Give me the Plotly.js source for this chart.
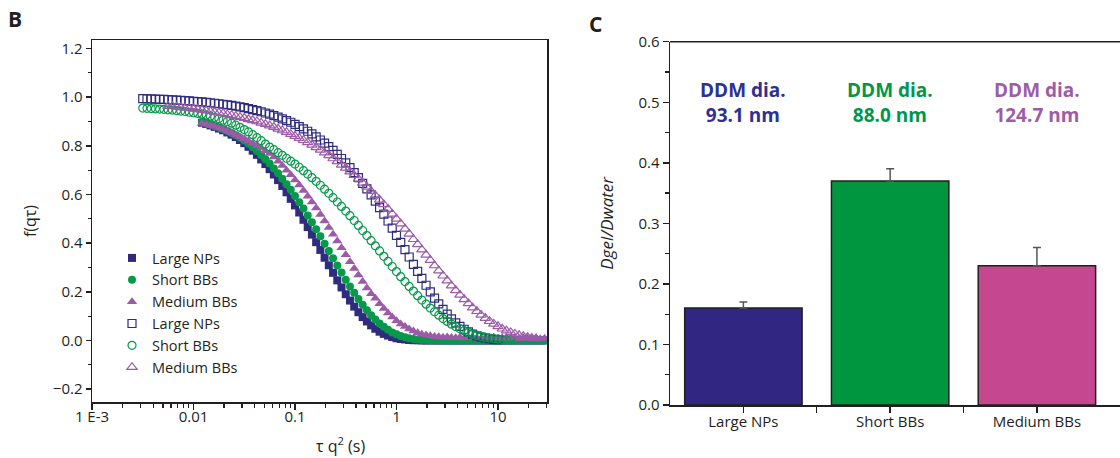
<!DOCTYPE html>
<html><head><meta charset="utf-8">
<script src="https://cdn.plot.ly/plotly-3.0.1.min.js"></script>
<style>html,body{margin:0;padding:0;background:#fff}#chart{width:1120px;height:458px}</style>
</head><body><div id="chart"></div>
<script>
// ---------- Panel B data: f(q,tau) vs tau*q^2 (s) ----------
const tauGrid = [0.003162,0.003481,0.003831,0.004217,0.004642,0.005109,0.005623,0.006190,0.006813,0.007499,0.008254,0.009085,
  0.01000,0.01101,0.01212,0.01334,0.01468,0.01616,0.01778,0.01957,0.02154,0.02371,0.02610,0.02873,
  0.03162,0.03481,0.03831,0.04217,0.04642,0.05109,0.05623,0.06190,0.06813,0.07499,0.08254,0.09085,
  0.1000,0.1101,0.1212,0.1334,0.1468,0.1616,0.1778,0.1957,0.2154,0.2371,0.2610,0.2873,
  0.3162,0.3481,0.3831,0.4217,0.4642,0.5109,0.5623,0.6190,0.6813,0.7499,0.8254,0.9085,
  1.000,1.101,1.212,1.334,1.468,1.616,1.778,1.957,2.154,2.371,2.610,2.873,
  3.162,3.481,3.831,4.217,4.642,5.109,5.623,6.190,6.813,7.499,8.254,9.085,
  10.00,11.01,12.12,13.34,14.68,16.16,17.78,19.57,21.54,23.71,26.10,28.73,31.62];

// filled symbols (water) start at tauGrid[14]
const largeNPsWater = [0.895,0.890,0.884,0.878,0.871,0.864,0.855,0.846,0.836,0.824,0.811,0.796,
  0.780,0.763,0.744,0.725,0.704,0.682,0.659,0.635,0.609,0.582,0.555,0.526,
  0.496,0.466,0.435,0.404,0.372,0.340,0.309,0.278,0.247,0.218,0.190,0.164,
  0.139,0.116,0.096,0.078,0.062,0.048,0.036,0.027,0.020,0.014,0.009,0.006,
  0.004,0.002,0.001,0.001,0,0,0,0,0,0,0,0,
  0,0,0,0,0,0,0,0,0,0,0,0,
  0,0,0,0,0,0,0,0,0,0,0];
const shortBBsWater = [0.898,0.893,0.888,0.882,0.876,0.869,0.861,0.853,0.843,0.833,0.822,0.809,
  0.794,0.779,0.762,0.745,0.727,0.707,0.687,0.665,0.642,0.619,0.594,0.568,
  0.542,0.514,0.486,0.457,0.428,0.398,0.368,0.338,0.308,0.279,0.250,0.222,
  0.196,0.170,0.147,0.124,0.104,0.086,0.070,0.056,0.044,0.033,0.025,0.018,
  0.013,0.009,0.006,0.004,0.002,0.002,0.001,0.001,0,0,0,0,
  0,0,0,0,0,0,0,0,0,0,0,0,
  0,0,0,0,0,0,0,0,0,0,0];
const mediumBBsWater = [0.893,0.889,0.884,0.879,0.873,0.867,0.860,0.853,0.845,0.837,0.829,0.820,
  0.811,0.801,0.791,0.780,0.768,0.754,0.737,0.719,0.700,0.681,0.660,0.639,
  0.616,0.593,0.569,0.544,0.518,0.491,0.464,0.437,0.409,0.381,0.352,0.324,
  0.296,0.269,0.242,0.216,0.192,0.173,0.151,0.131,0.113,0.096,0.081,0.068,
  0.057,0.047,0.039,0.032,0.026,0.022,0.019,0.016,0.015,0.013,0.014,0.012,
  0.011,0.013,0.010,0.012,0.014,0.011,0.009,0.012,0.010,0.013,0.009,0.011,
  0.008,0.012,0.010,0.007,0.011,0.009,0.008,0.010,0.007,0.009,0.006];

// open symbols (gel)
const largeNPsGel = [0.994,0.993,0.993,0.992,0.991,0.991,0.990,0.989,0.988,0.987,0.986,0.985,
  0.983,0.982,0.981,0.979,0.977,0.975,0.973,0.971,0.968,0.966,0.963,0.960,
  0.957,0.953,0.949,0.945,0.940,0.935,0.930,0.924,0.918,0.911,0.904,0.897,
  0.888,0.879,0.870,0.860,0.849,0.837,0.824,0.811,0.797,0.781,0.765,0.748,
  0.730,0.710,0.690,0.669,0.646,0.623,0.598,0.573,0.546,0.519,0.491,0.462,
  0.432,0.403,0.373,0.343,0.313,0.284,0.255,0.227,0.200,0.174,0.150,0.128,
  0.108,0.089,0.072,0.058,0.046,0.035,0.026,0.019,0.014,0.010,0.007,0.004,
  0.003];                                   // from tauGrid[0]
const shortBBsGel = [0.955,0.954,0.953,0.952,0.951,0.950,0.948,0.947,0.945,0.943,0.941,0.938,
  0.936,0.933,0.930,0.926,0.922,0.917,0.912,0.906,0.900,0.893,0.885,0.876,
  0.867,0.857,0.846,0.834,0.821,0.807,0.795,0.784,0.772,0.761,0.749,0.737,
  0.725,0.712,0.698,0.684,0.669,0.654,0.638,0.622,0.605,0.587,0.569,0.551,
  0.532,0.513,0.493,0.473,0.452,0.431,0.410,0.389,0.368,0.346,0.325,0.304,
  0.283,0.262,0.242,0.222,0.203,0.184,0.166,0.149,0.133,0.118,0.104,0.090,
  0.078,0.067,0.057,0.048,0.040,0.033,0.026,0.021,0.017,0.013,0.010,0.008,
  0.006,0.004,0.003,0.002];                 // from tauGrid[0]
const mediumBBsGel = [0.963,0.962,0.960,0.958,0.956,0.954,
  0.952,0.950,0.947,0.945,0.942,0.939,0.936,0.933,0.929,0.926,0.922,0.918,
  0.914,0.909,0.905,0.900,0.894,0.889,0.883,0.877,0.870,0.863,0.856,0.848,
  0.840,0.832,0.823,0.814,0.804,0.794,0.783,0.772,0.761,0.748,0.736,0.722,
  0.709,0.694,0.679,0.664,0.648,0.631,0.614,0.596,0.578,0.559,0.540,0.520,
  0.500,0.480,0.459,0.438,0.416,0.395,0.373,0.352,0.330,0.308,0.287,0.266,
  0.246,0.225,0.206,0.187,0.169,0.152,0.135,0.120,0.105,0.092,0.079,0.068,
  0.058,0.048,0.040,0.033,0.027,0.021,0.017,0.013,0.010,0.008]; // from tauGrid[6]

const tauTickVals = [0.001,0.01,0.1,1,10];
const tauTickText = ['1 E-3','0.01','0.1','1','10'];
const tauMinorTicks = [0.002,0.003,0.004,0.005,0.006,0.007,0.008,0.009,
  0.02,0.03,0.04,0.05,0.06,0.07,0.08,0.09,0.2,0.3,0.4,0.5,0.6,0.7,0.8,0.9,
  2,3,4,5,6,7,8,9,20,30];
const fTickVals = [-0.2,0,0.2,0.4,0.6,0.8,1.0,1.2];

// ---------- Panel C data ----------
const categories = ['Large NPs','Short BBs','Medium BBs'];
const ratioValues = [0.16,0.37,0.23];
const ratioErrPlus = [0.01,0.02,0.03];
const ddmLabels = ['DDM dia.<br>93.1 nm','DDM dia.<br>88.0 nm','DDM dia.<br>124.7 nm'];

const FONT = '"Open Sans", "DejaVu Sans", sans-serif';
const INK = '#231f20';
const NAVY = '#2f2c80', GREEN = '#06994a', PURPLE = '#9c5aa7';
const barColors = ['#312682','#00963f','#c4478f'];
const textColors = ['#2e3192','#00964b','#9e5ba8'];

function series(name, x, y, symbol, color, size) {
  const open = symbol.indexOf('open') >= 0;
  return {type:'scatter', mode:'markers', name, x, y, xaxis:'x', yaxis:'y', cliponaxis:false,
    marker:{symbol, size, color, line:{color, width: open ? 1.2 : 0}}};
}
const xWater = tauGrid.slice(14, 14 + largeNPsWater.length);
const traces = [
  series('Large NPs', xWater, largeNPsWater, 'square', NAVY, 8),
  series('Short BBs', xWater, shortBBsWater, 'circle', GREEN, 8),
  series('Medium BBs', xWater, mediumBBsWater, 'triangle-up', PURPLE, 9),
  series('Large NPs', tauGrid.slice(0, largeNPsGel.length), largeNPsGel, 'square-open', NAVY, 8),
  series('Short BBs', tauGrid.slice(0, shortBBsGel.length), shortBBsGel, 'circle-open', GREEN, 8),
  series('Medium BBs', tauGrid.slice(6, 6 + mediumBBsGel.length), mediumBBsGel, 'triangle-up-open', PURPLE, 9),
  {type:'bar', x: categories.map((c,i)=>i), y: ratioValues, width:0.8, xaxis:'x2', yaxis:'y2', showlegend:false,
   marker:{color: barColors, line:{color: INK, width:1.5}},
   error_y:{type:'data', symmetric:false, array: ratioErrPlus, arrayminus: ratioValues.map(()=>0),
     color:'#555', thickness:1.5, width:4}}
];

const axCommon = {showline:true, linewidth:1.5, linecolor:INK, ticks:'outside', tickwidth:1.5, tickcolor:INK,
  showgrid:false, zeroline:false, tickfont:{size:15, color:INK}};

const annotations = [
  {text:'<b>B</b>', xref:'paper', yref:'paper', x:15/1120, y:1-19/458, xanchor:'center', yanchor:'middle', showarrow:false, font:{size:21, color:INK}},
  {text:'<b>C</b>', xref:'paper', yref:'paper', x:595/1120, y:1-24.5/458, xanchor:'center', yanchor:'middle', showarrow:false, font:{size:21, color:INK}},
  {text:'τ q<sup>2</sup> (s)', xref:'paper', yref:'paper', x:340/1120, y:1-445/458, xanchor:'center', yanchor:'middle', showarrow:false, font:{size:16, color:INK}}
];
ddmLabels.forEach((t,i)=>annotations.push({text:'<b>'+t+'</b>', xref:'x2', yref:'y2', x:i, y:0.5,
  xanchor:'center', yanchor:'middle', showarrow:false, font:{size:19, color:textColors[i]}}));

const layout = {
  width:1120, height:458, margin:{l:0,r:0,t:0,b:0}, paper_bgcolor:'#fff', plot_bgcolor:'#fff',
  font:{family:FONT, color:INK},
  showlegend:true,
  legend:{x:112/1120, y:1-242/458, xanchor:'left', yanchor:'top', bgcolor:'rgba(0,0,0,0)', font:{size:14.5, color:INK}, tracegroupgap:0},
  xaxis:Object.assign({}, axCommon, {type:'log', domain:[92/1120, 547/1120], range:[-3, 1.483], anchor:'y', mirror:true,
    tickmode:'array', tickvals:tauTickVals, ticktext:tauTickText, ticklen:6, ticklabelstandoff:-6,
    minor:{tickmode:'array', tickvals:tauMinorTicks, ticks:'outside', ticklen:4, tickwidth:1.2, tickcolor:INK, showgrid:false}}),
  yaxis:Object.assign({}, axCommon, {domain:[56/458, 418/458], range:[-0.253, 1.235], anchor:'x', mirror:true,
    tickmode:'array', tickvals:fTickVals, tickformat:'.1f', ticklen:5,
    minor:{tick0:0, dtick:0.1, ticks:'outside', ticklen:3, tickwidth:1.2, tickcolor:INK, showgrid:false},
    title:{text:'f(qτ)', font:{size:16, color:INK}, standoff:12}}),
  xaxis2:Object.assign({}, axCommon, {domain:[670/1120, 1], range:[-0.5, 2.566], anchor:'y2',
    tickmode:'array', tickvals:[0,1,2], ticktext:categories, ticklen:6, ticklabelstandoff:-4,
    minor:{tickmode:'array', tickvals:[0.5,1.5], ticks:'outside', ticklen:6, tickwidth:1.2, tickcolor:INK, showgrid:false}}),
  yaxis2:Object.assign({}, axCommon, {domain:[53/458, 416.3/458], range:[0, 0.6], anchor:'x2',
    tick0:0, dtick:0.1, tickformat:'.1f', ticklen:6,
    minor:{tick0:0, dtick:0.05, ticks:'outside', ticklen:4, tickwidth:1.2, tickcolor:INK, showgrid:false},
    title:{text:'<i>Dgel/Dwater</i>', font:{size:17, color:INK}, standoff:20}}),
  shapes:[{type:'line', xref:'x2 domain', yref:'y2 domain', x0:0, x1:1, y0:1, y1:1, line:{color:INK, width:1.5}}],
  annotations
};
Plotly.newPlot('chart', traces, layout, {displayModeBar:false, staticPlot:true});
</script></body></html>
